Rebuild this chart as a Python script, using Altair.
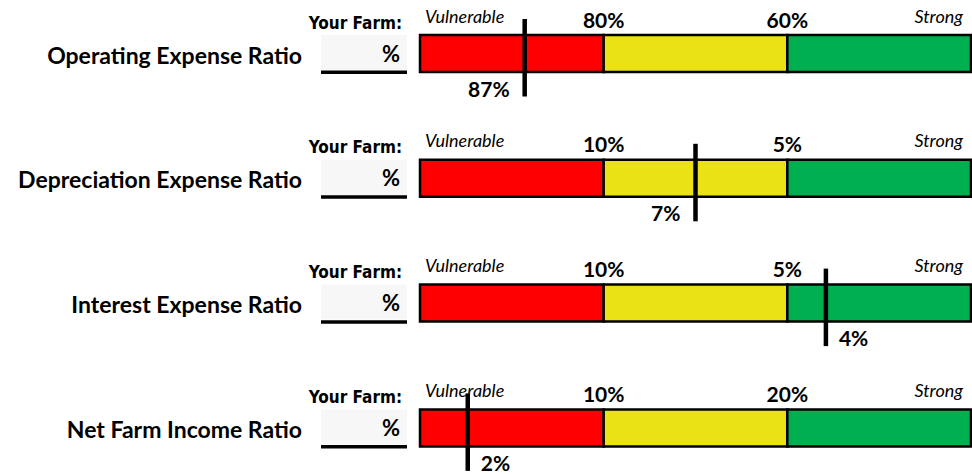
import altair as alt
import pandas as pd

# ---- data ----
ratios = ["Operating Expense Ratio", "Depreciation Expense Ratio",
          "Interest Expense Ratio", "Net Farm Income Ratio"]
first_cut = ["80%", "10%", "10%", "10%"]
second_cut = ["60%", "5%", "5%", "20%"]
farm_value = ["87%", "7%", "4%", "2%"]
marker_at = [0.57, 1.50, 2.21, 0.26]      # position on the 3-zone gauge (0 = left end, 3 = right end)
label_side = ["left", "left", "right", "right"]
zones = ["Vulnerable", "Middle", "Strong"]
zone_colors = ["#FF0000", "#EBE216", "#00B050"]

# ---- layout ----
W, H = 972, 474
X0, UNIT = 420, 183.67     # gauge left edge (px), px per zone
Y0, ROW = 53.5, 124.8      # first gauge centre (px), px per row


def yu(px):
    return px / ROW


x_scale = alt.Scale(domain=[-X0 / UNIT, (W - X0) / UNIT], nice=False, zero=False)
y_scale = alt.Scale(domain=[-Y0 / ROW, (H - Y0) / ROW], reverse=True, nice=False, zero=False)

rows = pd.DataFrame({
    "row": list(range(len(ratios))),
    "ratio": ratios,
    "value": farm_value,
    "marker": marker_at,
    "side": label_side,
})
rows["bar_top"] = rows["row"] - yu(18.5)
rows["bar_bot"] = rows["row"] + yu(18.5)
rows["box_bot"] = rows["row"] + yu(16.5)
rows["underline"] = rows["row"] + yu(18.8)
rows["mk_top"] = rows["row"] - yu(34.5)
rows["mk_bot"] = rows["row"] + yu(43)

segs = []
for i in range(len(ratios)):
    for j, z in enumerate(zones):
        segs.append({"row": i, "zone": z, "x": j, "x2": j + 1,
                     "y": i - yu(18.5), "y2": i + yu(18.5)})
segs = pd.DataFrame(segs)

cuts = []
for i in range(len(ratios)):
    cuts.append({"row": i, "pos": 1, "label": first_cut[i]})
    cuts.append({"row": i, "pos": 2, "label": second_cut[i]})
cuts = pd.DataFrame(cuts)

Y = alt.Y("row:Q", scale=y_scale, axis=None)
FONT = "Lato"
NARROW = "'DejaVu Sans Condensed', 'Roboto', sans-serif"

base = alt.Chart(rows)

row_labels = base.mark_text(align="right", baseline="alphabetic", font=FONT,
                            fontWeight="bold", fontSize=23, dy=10, color="#000").encode(
    x=alt.value(302), y=Y, text="ratio:N")

your_farm = base.mark_text(align="right", baseline="alphabetic", font=NARROW,
                           fontWeight="bold", fontSize=17, dy=-25, color="#000").encode(
    x=alt.value(402), y=Y, text=alt.value("Your Farm:"))

box = base.mark_rect(color="#F7F7F7").encode(
    x=alt.value(321), x2=alt.value(407),
    y=alt.Y("bar_top:Q", scale=y_scale, axis=None), y2="box_bot:Q")

underline = base.mark_rule(color="#000", strokeWidth=3.5).encode(
    x=alt.value(321), x2=alt.value(407),
    y=alt.Y("underline:Q", scale=y_scale, axis=None))

pct = base.mark_text(align="right", baseline="alphabetic", font=FONT,
                     fontWeight="bold", fontSize=22, dy=8, color="#000").encode(
    x=alt.value(400), y=Y, text=alt.value("%"))

vuln = base.mark_text(align="left", baseline="alphabetic", font=FONT, fontStyle="italic",
                      fontSize=18, dy=-31, color="#000").encode(
    x=alt.value(425), y=Y, text=alt.value("Vulnerable"))

strong = base.mark_text(align="right", baseline="alphabetic", font=FONT, fontStyle="italic",
                        fontSize=18, dy=-31, color="#000").encode(
    x=alt.value(963), y=Y, text=alt.value("Strong"))

bars = alt.Chart(segs).mark_rect(stroke="#000", strokeWidth=2.5).encode(
    x=alt.X("x:Q", scale=x_scale, axis=None), x2="x2:Q",
    y=alt.Y("y:Q", scale=y_scale, axis=None), y2="y2:Q",
    color=alt.Color("zone:N", scale=alt.Scale(domain=zones, range=zone_colors), legend=None))

cut_labels = alt.Chart(cuts).mark_text(align="center", baseline="alphabetic", font=FONT,
                                       fontWeight="bold", fontSize=21, dy=-26, color="#000").encode(
    x=alt.X("pos:Q", scale=x_scale, axis=None), y=Y, text="label:N")

marker = base.mark_rule(color="#000", strokeWidth=4.5).encode(
    x=alt.X("marker:Q", scale=x_scale, axis=None),
    y=alt.Y("mk_top:Q", scale=y_scale, axis=None), y2="mk_bot:Q")

val_left = base.transform_filter("datum.side == 'left'").mark_text(
    align="right", baseline="alphabetic", font=FONT, fontWeight="bold", fontSize=21,
    dx=-15, dy=43, color="#000").encode(
    x=alt.X("marker:Q", scale=x_scale, axis=None), y=Y, text="value:N")

val_right = base.transform_filter("datum.side == 'right'").mark_text(
    align="left", baseline="alphabetic", font=FONT, fontWeight="bold", fontSize=21,
    dx=13, dy=43, color="#000").encode(
    x=alt.X("marker:Q", scale=x_scale, axis=None), y=Y, text="value:N")

chart = alt.layer(
    box, underline, row_labels, your_farm, pct, vuln, strong,
    bars, cut_labels, marker, val_left, val_right
).properties(
    width=W, height=H, padding=0, autosize=alt.AutoSizeParams(type="none"),
    background="white"
).configure_view(stroke=None)

chart.save("out.html", embed_options={"renderer": "svg", "actions": False})
